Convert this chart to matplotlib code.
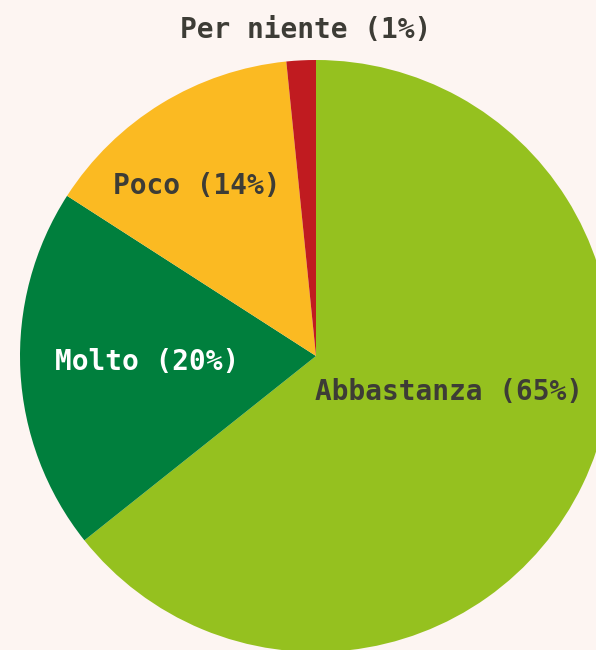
import matplotlib
matplotlib.use('Agg')
import matplotlib.pyplot as plt

#-------------------------------------------------------------------------------
# data
#-------------------------------------------------------------------------------
categories = ['Abbastanza', 'Molto', 'Poco', 'Per niente']
shares = [64.3, 19.8, 14.3, 1.6]          # slice sizes as drawn
label_pct = [65, 20, 14, 1]               # percentages printed in the labels
colors = ['#95c11f', '#007f3d', '#fbba22', '#c01b20']
bg = '#fdf5f2'
txt = '#3d3c36'

fig = plt.figure(figsize=(5.96, 6.5), dpi=100, facecolor=bg)
ax = fig.add_axes([0, 0, 1, 1])
ax.set_facecolor(bg)

ax.pie(shares, colors=colors, startangle=90, counterclock=False,
       center=(316, 294), radius=296, frame=True,
       wedgeprops=dict(linewidth=0))
ax.set_xlim(0, 596)
ax.set_ylim(0, 650)
ax.set_aspect('equal')
ax.axis('off')

# wide, evenly spaced glyphs come closest to the tracked lettering of the original
font = dict(family=['DejaVu Sans Mono'], fontweight='bold', fontsize=20)
labels = [c + ' (' + str(p) + '%)' for c, p in zip(categories, label_pct)]
ax.text(315, 258, labels[0], ha='left', va='center', color=txt, **font)
ax.text(147, 288, labels[1], ha='center', va='center', color='white', **font)
ax.text(197, 464, labels[2], ha='center', va='center', color=txt, **font)
ax.text(306, 620, labels[3], ha='center', va='center', color=txt, **font)

fig.savefig('out.png', dpi=100, facecolor=bg)
